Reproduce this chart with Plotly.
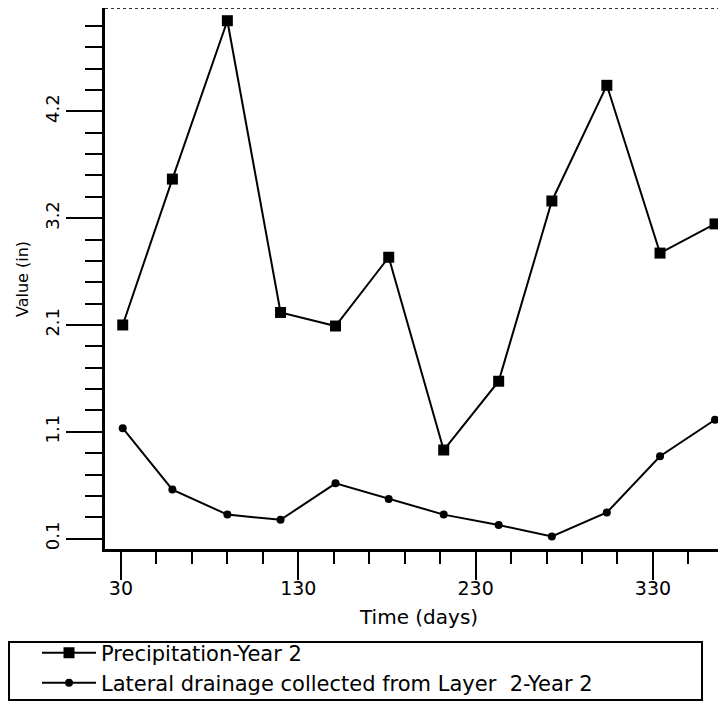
import plotly.graph_objects as go

# ---- data ----
days = [31, 59, 90, 120, 151, 181, 212, 243, 273, 304, 334, 365]
precip = [2.15, 3.55, 5.07, 2.27, 2.14, 2.80, 0.95, 1.61, 3.34, 4.45, 2.84, 3.12]
drainage = [1.16, 0.57, 0.33, 0.28, 0.63, 0.48, 0.33, 0.23, 0.12, 0.35, 0.89, 1.24]

x_ticks = [30, 130, 230, 330]
y_tickvals = [0.1, 1.125, 2.15, 3.175, 4.2]
y_ticktext = ["0.1", "1.1", "2.1", "3.2", "4.2"]

name_precip = "Precipitation-Year 2"
name_drain = "Lateral drainage collected from Layer  2-Year 2"

FONT = "DejaVu Sans"
OFF = 8                      # page body margin offset
W, H = 726 - OFF, 708 - OFF
L, R, T, B = 105 - OFF, W, 0, 549 - OFF   # plot-area bounds in figure pixels
PW, PH = R - L, B - T


def px(sx):
    """screen x -> paper x"""
    return (sx - OFF - L) / PW


def py(sy):
    """screen y -> paper y"""
    return (B - (sy - OFF)) / PH


fig = go.Figure()
fig.add_trace(go.Scatter(
    x=days, y=precip, mode="lines+markers", name=name_precip,
    line=dict(color="black", width=2),
    marker=dict(symbol="square", size=11, color="black"),
    legend="legend",
))
fig.add_trace(go.Scatter(
    x=days, y=drainage, mode="lines+markers", name=name_drain,
    line=dict(color="black", width=2),
    marker=dict(symbol="circle", size=8, color="black"),
    legend="legend2",
))

leg_common = dict(xanchor="left", yanchor="middle", bgcolor="rgba(0,0,0,0)",
                  borderwidth=0, itemwidth=54,
                  font=dict(family=FONT, size=21, color="black"))
fig.update_layout(
    width=W, height=H,
    margin=dict(l=L, r=W - R, t=T, b=H - B, autoexpand=False),
    paper_bgcolor="white", plot_bgcolor="white",
    font=dict(family=FONT, color="black"),
    showlegend=True,
    legend=dict(x=px(37), y=py(653), **leg_common),
    legend2=dict(x=px(37), y=py(683), **leg_common),
)

fig.update_xaxes(
    range=[21, 371.2], tickmode="array", tickvals=x_ticks,
    ticks="outside", ticklen=28, tickwidth=2, tickcolor="black",
    ticklabelstandoff=-8,
    tickfont=dict(family=FONT, size=19, color="black"),
    showline=True, linecolor="black", linewidth=3,
    showgrid=False, zeroline=False,
    minor=dict(tickmode="linear", tick0=10, dtick=20, ticks="outside",
               ticklen=12, tickwidth=2, tickcolor="black", showgrid=False),
)
fig.update_yaxes(
    range=[0.0, 5.192], tickmode="array", tickvals=y_tickvals, ticktext=y_ticktext,
    ticks="outside", ticklen=36, tickwidth=2, tickcolor="black",
    tickangle=-90, ticklabelstandoff=0,
    tickfont=dict(family=FONT, size=18, color="black"),
    showline=True, linecolor="black", linewidth=3,
    showgrid=False, zeroline=False,
    minor=dict(tickmode="linear", tick0=0.1, dtick=0.205, ticks="outside",
               ticklen=17, tickwidth=2, tickcolor="black", showgrid=False),
)

# top frame line (dotted)
fig.add_shape(type="line", xref="paper", yref="paper", x0=0, x1=1, y0=1, y1=1,
              line=dict(color="#333333", width=2, dash="dot"))
# legend box
fig.add_shape(type="rect", xref="paper", yref="paper",
              x0=px(9), x1=px(702), y0=py(700), y1=py(642),
              line=dict(color="black", width=2), fillcolor="rgba(0,0,0,0)")

# axis titles
fig.add_annotation(text="Time (days)", xref="paper", yref="paper",
                   x=px(418), y=py(617), xanchor="center", yanchor="middle",
                   showarrow=False, font=dict(family=FONT, size=20, color="black"))
fig.add_annotation(text="Value (in)", xref="paper", yref="paper",
                   x=px(22), y=py(279), xanchor="center", yanchor="middle",
                   showarrow=False, textangle=-90,
                   font=dict(family=FONT, size=16, color="black"))

fig.write_html("out.html")
